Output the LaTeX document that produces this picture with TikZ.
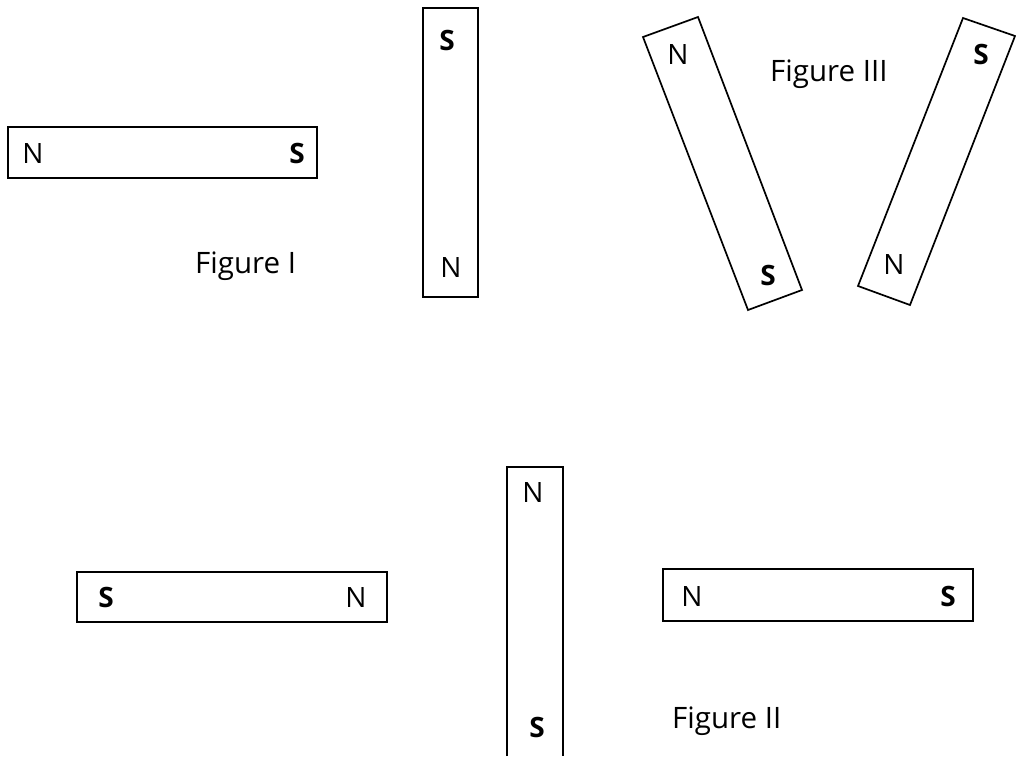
\documentclass[tikz,border=0pt]{standalone}
\usepackage{fontspec}
\setmainfont{Open Sans}
\begin{document}
\begin{tikzpicture}[x=1pt,y=-1pt,
  bar/.style={draw=black,line width=1.7pt},
  pole/.style={font=\fontsize{28}{32}\selectfont,inner sep=0pt},
  spole/.style={font=\fontsize{28}{32}\selectfont\bfseries,inner sep=0pt},
  figlabel/.style={font=\fontsize{29.5}{33}\selectfont,inner sep=0pt,anchor=base west}]
\useasboundingbox (0,0) rectangle (1016,756);
% Figure I
\draw[bar] (8,127) rectangle (317,178);
\node[pole] (n1) at (33,153) {N};
\node[spole] (s1) at (297,153) {S};
\draw[bar] (423,8) rectangle (478,297);
\node[spole] (s2) at (447,40) {S};
\node[pole] (n2) at (451,267) {N};
\node[figlabel] (f1) at (195,273) {Figure I};
% Figure III
\draw[bar] (643,37) -- (698,17) -- (802,290) -- (748,310) -- cycle;
\node[pole] (n3) at (678,55) {N};
\node[spole] (s3) at (768,275) {S};
\draw[bar] (963,18) -- (1015,36) -- (910,305) -- (858,286) -- cycle;
\node[spole] (s4) at (981,54) {S};
\node[pole] (n4) at (894,264) {N};
\node[figlabel] (f3) at (770,81) {Figure III};
% Figure II
\draw[bar] (77,572) rectangle (387,622);
\node[spole] (s5) at (106,597) {S};
\node[pole] (n5) at (356,597) {N};
\draw[bar] (507,756) -- (507,467) -- (563,467) -- (563,756);
\node[pole] (n6) at (533,492) {N};
\node[spole] (s6) at (537,727) {S};
\draw[bar] (663,569) rectangle (973,621);
\node[pole] (n7) at (692,596) {N};
\node[spole] (s7) at (948,596) {S};
\node[figlabel] (f2) at (672,728) {Figure II};
\end{tikzpicture}
\end{document}
